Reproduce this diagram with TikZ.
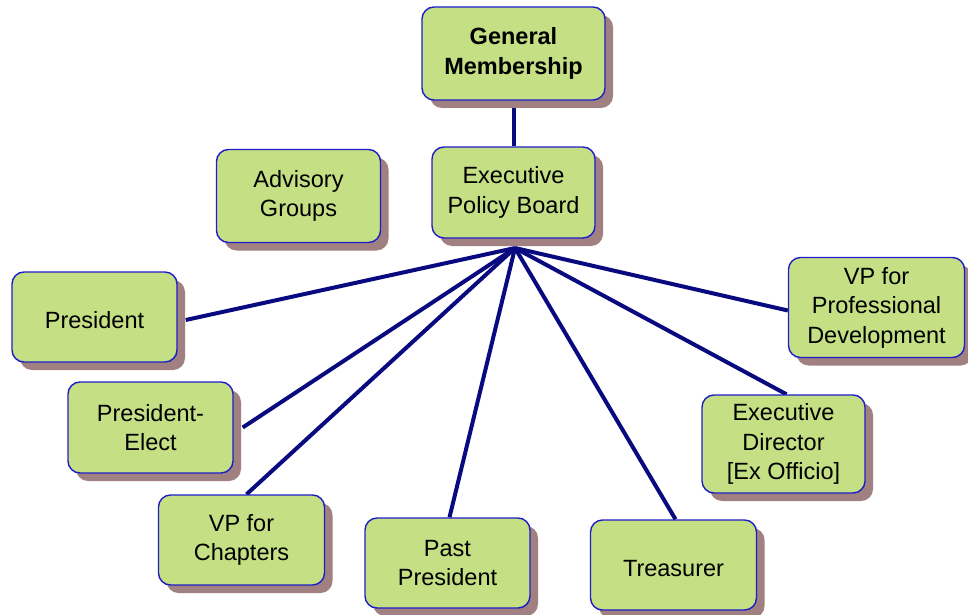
\documentclass[tikz,border=0pt]{standalone}
\usepackage{fontspec}
\setmainfont{Liberation Sans}
\usetikzlibrary{shadows,backgrounds,calc}
\definecolor{boxfill}{RGB}{196,223,132}
\definecolor{boxline}{RGB}{30,30,200}
\definecolor{shadowc}{RGB}{160,128,128}
\definecolor{linkc}{RGB}{10,10,128}
\tikzset{
  orgbox/.style={draw=boxline, line width=1.4pt, fill=boxfill, rounded corners=12pt,
    align=center, inner sep=0pt, font=\fontsize{23.5}{29.5}\selectfont,
    execute at begin node={\rule{0pt}{24pt}},
    drop shadow={shadow xshift=8pt, shadow yshift=-8pt, fill=shadowc, opacity=1}},
  link/.style={draw=linkc, line width=4pt}
}
\begin{document}
\begin{tikzpicture}[x=1pt,y=-1pt]
\useasboundingbox (0,0) rectangle (968,615);
\node[orgbox, minimum width=183pt, minimum height=93pt, font=\fontsize{23.5}{30}\selectfont\bfseries] (gm) at (513.5,53.5) {General\\Membership};
\node[orgbox, minimum width=163pt, minimum height=91pt] (epb) at (513.5,192.5) {Executive\\Policy Board};
\node[orgbox, minimum width=164pt, minimum height=93pt] (adv) at (298.5,196) {Advisory\\Groups};
\node[orgbox, minimum width=165pt, minimum height=90pt, execute at begin node={}] (pres) at (94.5,317) {President};
\node[orgbox, minimum width=165pt, minimum height=91pt] (pe) at (150.5,427.5) {President-\\Elect};
\node[orgbox, minimum width=166pt, minimum height=90pt] (vpc) at (241.5,540) {VP for\\Chapters};
\node[orgbox, minimum width=165pt, minimum height=90pt] (pp) at (447.5,563) {Past\\President};
\node[orgbox, minimum width=166pt, minimum height=90pt] (tr) at (673.5,565) {Treasurer};
\node[orgbox, minimum width=163pt, minimum height=98pt] (ed) at (783.5,444) {Executive\\Director\\{[Ex Officio]}};
\node[orgbox, minimum width=176pt, minimum height=100pt] (vpd) at (876.5,307.5) {VP for\\Professional\\Development};
\coordinate (hub) at (515,248);
\begin{scope}[on background layer]
\draw[link] (gm.south) -- (epb.north);
\draw[link] (hub) -- ($(pres.east)+(8,3)$);
\draw[link] (hub) -- ($(pe.east)+(9,0)$);
\draw[link] (hub) -- ($(vpc.north)+(5,0)$);
\draw[link] (hub) -- ($(pp.north)+(2,0)$);
\draw[link] (hub) -- ($(tr.north)+(2,0)$);
\draw[link] (hub) -- ($(ed.north)+(3,0)$);
\draw[link] (hub) -- ($(vpd.west)+(0,3)$);
\end{scope}
\end{tikzpicture}
\end{document}
